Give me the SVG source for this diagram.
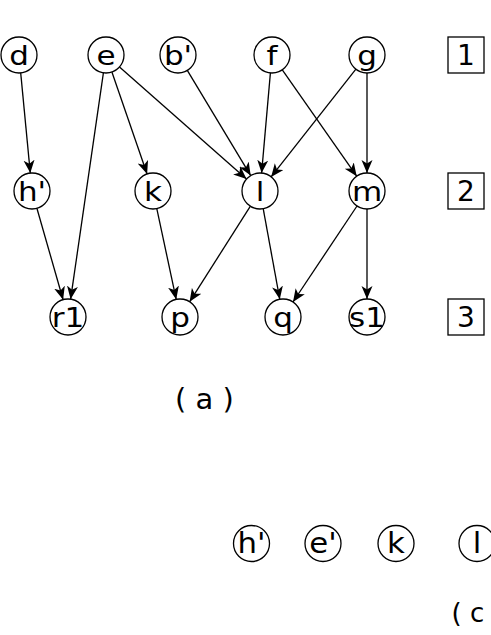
<svg xmlns="http://www.w3.org/2000/svg" width="491" height="635" viewBox="0 0 491 635">
<defs>
<marker id="ah" markerUnits="userSpaceOnUse" markerWidth="14" markerHeight="12" refX="13" refY="5.5" orient="auto" viewBox="0 0 14 12">
<path d="M0,0 L13,5.5 L0,11 L3.5,5.5 z" fill="#000"/>
</marker>
</defs>
<style>
.n circle{fill:#fff;stroke:#000;stroke-width:1.3}
.b rect{fill:#fff;stroke:#000;stroke-width:1.3}
text{font-family:"DejaVu Sans",sans-serif;font-size:27px;fill:#000;text-anchor:middle}
.n2 text{font-size:28px}
.b text{font-size:28px}
#edges line{stroke:#000;stroke-width:1.3;marker-end:url(#ah)}
</style>
<rect width="491" height="635" fill="#fff"/>
<g id="edges">
<line x1="20.7" y1="72.9" x2="30.3" y2="173.1"/>
<line x1="103.4" y1="72.8" x2="70.6" y2="299.2"/>
<line x1="36.9" y1="208.3" x2="63.1" y2="299.7"/>
<line x1="111.9" y1="72.0" x2="147.1" y2="174.0"/>
<line x1="119.5" y1="66.9" x2="246.5" y2="179.1"/>
<line x1="187.3" y1="70.4" x2="250.7" y2="175.6"/>
<line x1="270.4" y1="72.9" x2="261.6" y2="173.1"/>
<line x1="355.9" y1="69.1" x2="271.1" y2="176.9"/>
<line x1="282.3" y1="69.8" x2="356.7" y2="176.2"/>
<line x1="367" y1="73" x2="367" y2="173"/>
<line x1="156.8" y1="208.6" x2="176.2" y2="299.4"/>
<line x1="250.4" y1="206.2" x2="189.6" y2="301.8"/>
<line x1="263.2" y1="208.7" x2="279.8" y2="299.3"/>
<line x1="357.0" y1="206.0" x2="293.0" y2="302.0"/>
<line x1="367" y1="209" x2="367" y2="299"/>
</g>
<g id="n-d" class="n"><circle cx="19" cy="55" r="18"/><text transform="translate(19,64.5) scale(1.15,1)">d</text></g>
<g id="n-e" class="n"><circle cx="106" cy="55" r="18"/><text transform="translate(106,64.5) scale(1.15,1)">e</text></g>
<g id="n-b" class="n"><circle cx="178" cy="55" r="18"/><text transform="translate(178,64.5) scale(1.15,1)">b'</text></g>
<g id="n-f" class="n"><circle cx="272" cy="55" r="18"/><text transform="translate(272,64.5) scale(1.15,1)">f</text></g>
<g id="n-g" class="n"><circle cx="367" cy="55" r="18"/><text transform="translate(367,64.5) scale(1.15,1)">g</text></g>
<g id="n-h" class="n"><circle cx="32" cy="191" r="18"/><text transform="translate(32,200.5) scale(1.15,1)">h'</text></g>
<g id="n-k" class="n"><circle cx="153" cy="191" r="18"/><text transform="translate(153,200.5) scale(1.15,1)">k</text></g>
<g id="n-l" class="n"><circle cx="260" cy="191" r="18"/><text transform="translate(260,200.5) scale(1.15,1)">l</text></g>
<g id="n-m" class="n"><circle cx="367" cy="191" r="18"/><text transform="translate(367,200.5) scale(1.15,1)">m</text></g>
<g id="n-r1" class="n"><circle cx="68" cy="317" r="18"/><text transform="translate(68,326.5) scale(1.15,1)">r1</text></g>
<g id="n-p" class="n"><circle cx="180" cy="317" r="18"/><text transform="translate(180,326.5) scale(1.15,1)">p</text></g>
<g id="n-q" class="n"><circle cx="283" cy="317" r="18"/><text transform="translate(283,326.5) scale(1.15,1)">q</text></g>
<g id="n-s1" class="n"><circle cx="367" cy="317" r="18"/><text transform="translate(367,326.5) scale(1.15,1)">s1</text></g>
<g id="box1" class="b"><rect x="448" y="37" width="36" height="36"/><text x="466" y="65">1</text></g>
<g id="box2" class="b"><rect x="448" y="173" width="36" height="36"/><text x="466" y="201">2</text></g>
<g id="box3" class="b"><rect x="448" y="299" width="36" height="36"/><text x="466" y="327">3</text></g>
<text id="cap-a" x="204.5" y="409" style="font-size:29px" xml:space="preserve">( a )</text>
<g id="n-h2" class="n n2"><circle cx="251.5" cy="543.5" r="18"/><text transform="translate(251.5,553) scale(1.1,1)">h'</text></g>
<g id="n-e2" class="n n2"><circle cx="323" cy="543.5" r="18"/><text transform="translate(323,553) scale(1.1,1)">e'</text></g>
<g id="n-k2" class="n n2"><circle cx="396" cy="543.5" r="18"/><text transform="translate(396,553) scale(1.1,1)">k</text></g>
<g id="n-l2" class="n n2"><circle cx="477" cy="543.5" r="18"/><text transform="translate(477,553) scale(1.1,1)">l</text></g>
<text id="cap-c" x="451.5" y="622" style="text-anchor:start;font-size:26px" xml:space="preserve">( c</text>
</svg>
